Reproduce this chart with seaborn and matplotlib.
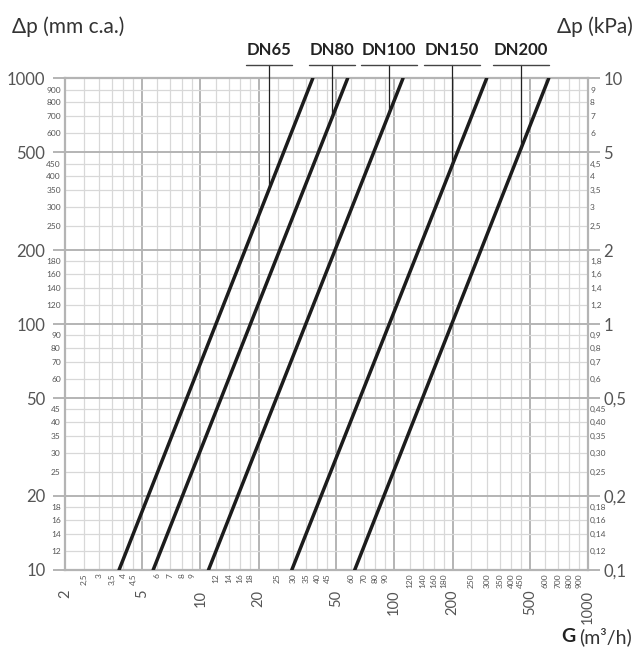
import numpy as np
import pandas as pd
import matplotlib.pyplot as plt
import seaborn as sns

# flow G (m3/h) read at 10 and 1000 mm c.a. for each valve size
sizes = ['DN65', 'DN80', 'DN100', 'DN150', 'DN200']
g_at_10 = [3.8, 5.7, 11.0, 29.6, 62.5]
g_at_1000 = [38.0, 57.5, 111.0, 300.0, 627.0]
dp_ends = [10, 1000]
# flow where each label's leader line drops onto its curve
leader_g = [22.6, 47.7, 93.9, 198.6, 451.0]

x_major = [2, 5, 10, 20, 50, 100, 200, 500, 1000]
x_minor = [2.5, 3, 3.5, 4, 4.5, 6, 7, 8, 9, 12, 14, 16, 18, 25, 30, 35, 40, 45,
           60, 70, 80, 90, 120, 140, 160, 180, 250, 300, 350, 400, 450,
           600, 700, 800, 900]
y_major = [10, 20, 50, 100, 200, 500, 1000]
y_minor = [12, 14, 16, 18, 25, 30, 35, 40, 45, 60, 70, 80, 90, 120, 140, 160,
           180, 250, 300, 350, 400, 450, 600, 700, 800, 900]
kpa_major = ['0,1', '0,2', '0,5', '1', '2', '5', '10']
kpa_minor = ['0,12', '0,14', '0,16', '0,18', '0,25', '0,30', '0,35', '0,40',
             '0,45', '0,6', '0,7', '0,8', '0,9', '1,2', '1,4', '1,6', '1,8',
             '2,5', '3', '3,5', '4', '4,5', '6', '7', '8', '9']

def comma(v):
    return f"{v:g}".replace('.', ',')

rows = []
for s, g0, g1 in zip(sizes, g_at_10, g_at_1000):
    rows.append((s, g0, dp_ends[0]))
    rows.append((s, g1, dp_ends[1]))
df = pd.DataFrame(rows, columns=['size', 'G', 'dp'])

sns.set_style('white')
plt.rcParams['font.family'] = ['Lato', 'DejaVu Sans']

grid_major = '#b4b4b4'
grid_minor = '#d8d8d8'
lab = '#555555'

fig = plt.figure(figsize=(6.36, 6.5), dpi=100)
ax = fig.add_axes([65/636, 80/650, 523/636, 491.7/650])
ax.set_xscale('log')
ax.set_yscale('log')

sns.lineplot(data=df, x='G', y='dp', hue='size', palette=['#1c1c1c']*5,
             legend=False, lw=2.5, estimator=None, sort=False, ax=ax, zorder=5)

ax.set_xlim(2, 1000)
ax.set_ylim(10, 1000)
ax.set_xlabel('')
ax.set_ylabel('')

ax.set_xticks(x_major)
ax.set_xticklabels([comma(v) for v in x_major])
ax.set_xticks(x_minor, minor=True)
ax.set_xticklabels([comma(v) for v in x_minor], minor=True)
ax.set_yticks(y_major)
ax.set_yticklabels([comma(v) for v in y_major])
ax.set_yticks(y_minor, minor=True)
ax.set_yticklabels([comma(v) for v in y_minor], minor=True)

ax.grid(which='major', color=grid_major, lw=1.4)
ax.grid(which='minor', color=grid_minor, lw=0.9)
ax.set_axisbelow(True)

ax.tick_params(axis='x', which='major', length=8.6, width=1.4, color=grid_major,
               pad=5.5, labelsize=10.5, labelcolor=lab, labelrotation=90)
ax.tick_params(axis='x', which='minor', length=0, pad=2.2, labelsize=6,
               labelcolor=lab, labelrotation=90)
ax.tick_params(axis='y', which='major', length=8.6, width=1.4, color=grid_major,
               pad=5.5, labelsize=12, labelcolor=lab)
ax.tick_params(axis='y', which='minor', length=0, pad=3, labelsize=6,
               labelcolor=lab)

for sp in ax.spines.values():
    sp.set_color(grid_major)
    sp.set_linewidth(1.6)

ax2 = ax.twinx()
ax2.set_yscale('log')
ax2.set_ylim(0.1, 10)
ax2.set_yticks([v / 100 for v in y_major])
ax2.set_yticklabels(kpa_major)
ax2.set_yticks([v / 100 for v in y_minor], minor=True)
ax2.set_yticklabels(kpa_minor, minor=True)
ax2.tick_params(axis='y', which='major', length=8.6, width=1.4, color=grid_major,
                pad=2.5, labelsize=12, labelcolor=lab)
ax2.tick_params(axis='y', which='minor', length=0, pad=1.5, labelsize=6,
                labelcolor=lab)
for sp in ax2.spines.values():
    sp.set_visible(False)

# size labels with leader lines
top_dp = 1133
fig.canvas.draw()
inv = fig.transFigure.inverted()
for s, g, g0, g1 in zip(sizes, leader_g, g_at_10, g_at_1000):
    dp_hit = 10 ** np.interp(np.log10(g), np.log10([g0, g1]), np.log10(dp_ends))
    ax.plot([g, g], [dp_hit, top_dp], color='#222222', lw=0.9, clip_on=False,
            zorder=6)
    t = ax.annotate(s, xy=(g, top_dp), xycoords='data', textcoords='offset points',
                    xytext=(0, 5), ha='center', va='bottom', fontsize=12,
                    fontweight='bold', color='#222222', annotation_clip=False)
    fig.canvas.draw()
    bb = t.get_window_extent()
    yline = ax.transData.transform((g, top_dp))[1]
    p0 = inv.transform((bb.x0 - 1, yline))
    p1 = inv.transform((bb.x1 + 1, yline))
    fig.add_artist(plt.Line2D([p0[0], p1[0]], [p0[1], p1[1]], color='#444444',
                              lw=1.0))

fig.text(12/636, 1 - 27/650, 'Δp (mm c.a.)', fontsize=15, color='#333333',
         ha='left', va='center')
fig.text(633/636, 1 - 27/650, 'Δp (kPa)', fontsize=15, color='#333333',
         ha='right', va='center')
unit = fig.text(632/636, 1 - 637/650, '(m³/h)', fontsize=14, color='#333333',
                ha='right', va='center')
fig.canvas.draw()
ub = unit.get_window_extent()
gx = inv.transform((ub.x0 - 4, 0))[0]
fig.text(gx, 1 - 637/650, 'G', fontsize=14, fontweight='bold', color='#222222',
         ha='right', va='center')

fig.savefig('out.png', dpi=100)
